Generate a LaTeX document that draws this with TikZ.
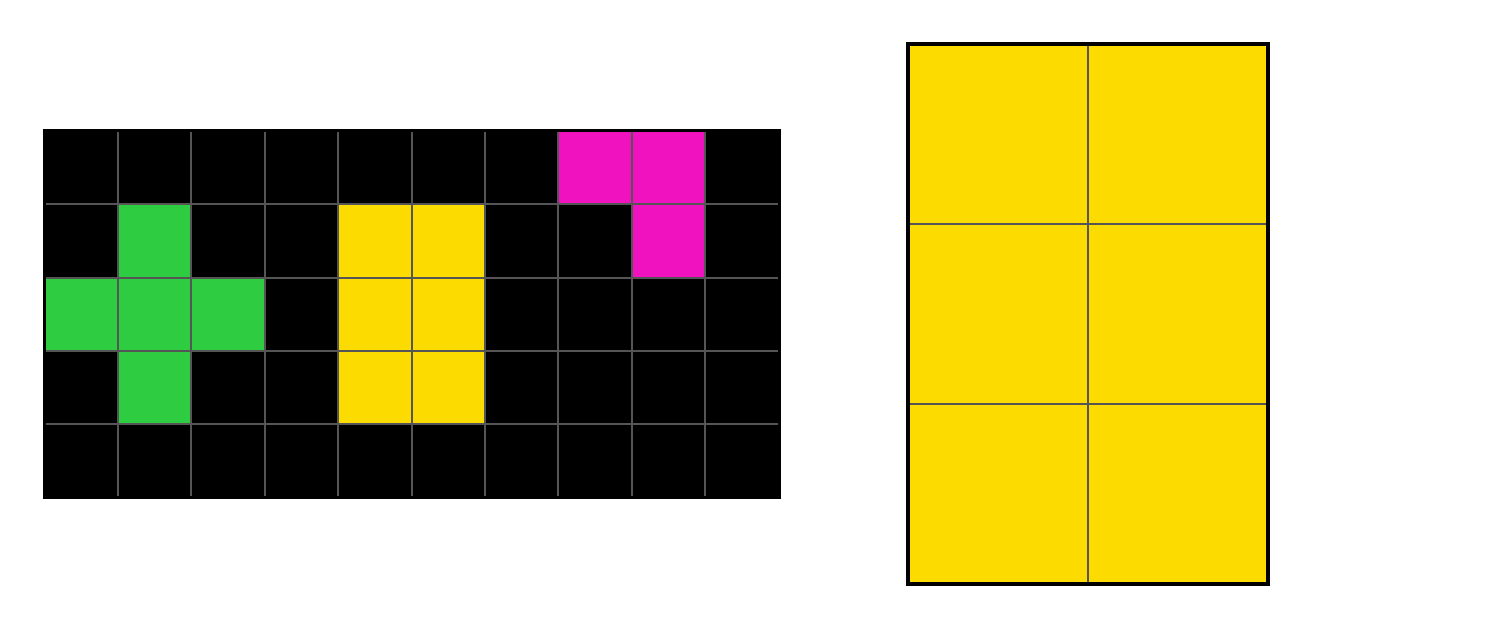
\documentclass[tikz,border=0pt]{standalone}
\usepackage{tikz}
\definecolor{arcgreen}{HTML}{2ECC40}
\definecolor{arcyellow}{HTML}{FCDC00}
\definecolor{arcmagenta}{HTML}{F012BE}
\definecolor{gridgray}{HTML}{555555}
\tikzset{
  arc canvas/.style={
    x=0.02cm,
    y=-0.02cm,
    line cap=rect
  },
  gridline/.style={
    draw=gridgray,
    line width=0.04cm
  },
  gridframe/.style={
    draw=black,
    line width=0.07cm
  }
}

\begin{document}
\begin{tikzpicture}[arc canvas]
\useasboundingbox (0,0) rectangle (1500,629);
% input grid, 10 x 5
\fill[black] (44.6,130.7) rectangle (779.6,497.7);
\foreach \c/\r/\col in {7/0/arcmagenta, 8/0/arcmagenta, 8/1/arcmagenta,
    1/1/arcgreen, 0/2/arcgreen, 1/2/arcgreen, 2/2/arcgreen, 1/3/arcgreen,
    4/1/arcyellow, 5/1/arcyellow, 4/2/arcyellow, 5/2/arcyellow,
    4/3/arcyellow, 5/3/arcyellow}
  \fill[\col] ({44.6+\c*73.4},{130.7+\r*73.4}) rectangle ++(73.4,73.4);
\foreach \i in {1,...,9}
  \draw[gridline] ({44.6+\i*73.4},130.7) -- ++(0,367);
\foreach \j in {1,...,4}
  \draw[gridline] (44.6,{130.7+\j*73.4}) -- ++(734,0);
\draw[gridframe] (44.6,130.7) rectangle (779.6,497.7);
% output grid, 2 x 3
\fill[arcyellow] (908,44) rectangle (1268,584);
\draw[gridline] (1088,44) -- (1088,584);
\foreach \j in {1,2}
  \draw[gridline] (908,{44+\j*180}) -- (1268,{44+\j*180});
\draw[gridframe] (908,44) rectangle (1268,584);
\end{tikzpicture}
\end{document}
